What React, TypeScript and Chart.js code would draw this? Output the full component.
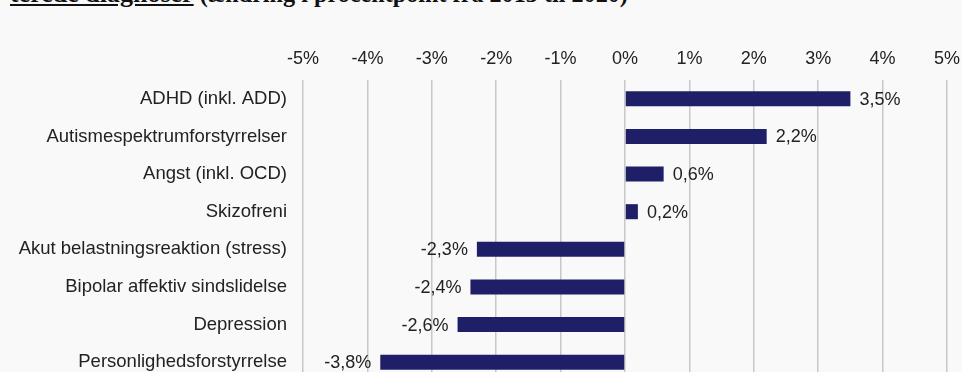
import React, { useEffect, useRef } from "react";
import { Chart, registerables } from "chart.js";

Chart.register(...registerables);

const categories = [
  "ADHD (inkl. ADD)",
  "Autismespektrumforstyrrelser",
  "Angst (inkl. OCD)",
  "Skizofreni",
  "Akut belastningsreaktion (stress)",
  "Bipolar affektiv sindslidelse",
  "Depression",
  "Personlighedsforstyrrelse",
];
const changes = [3.5, 2.2, 0.6, 0.2, -2.3, -2.4, -2.6, -3.8];
const axisMin = -5;
const axisMax = 5;
const titleLink = "terede diagnoser";
const titleRest = " (ændring i procentpoint fra 2013 til 2020)";

const fmt = (v: number) => v.toFixed(1).replace(".", ",") + "%";

const FONT = '"Liberation Sans", Arial, sans-serif';
const TEXT = "#222222";

const valueLabels = {
  id: "valueLabels",
  afterDatasetsDraw(chart: any) {
    const ctx = chart.ctx;
    const meta = chart.getDatasetMeta(0);
    ctx.save();
    ctx.font = `18px ${FONT}`;
    ctx.fillStyle = TEXT;
    ctx.textBaseline = "middle";
    meta.data.forEach((bar: any, i: number) => {
      const v = changes[i];
      if (v >= 0) {
        ctx.textAlign = "left";
        ctx.fillText(fmt(v), bar.x + 9, bar.y + 1);
      } else {
        ctx.textAlign = "right";
        ctx.fillText(fmt(v), bar.x - 9, bar.y + 1);
      }
    });
    ctx.restore();
  },
};

export default function App() {
  const ref = useRef<HTMLCanvasElement>(null);
  useEffect(() => {
    if (!ref.current) return;
    const chart = new Chart(ref.current, {
      type: "bar",
      data: {
        labels: categories,
        datasets: [
          {
            data: changes,
            backgroundColor: "#1f1f68",
            borderWidth: 0,
            barPercentage: 0.4,
            categoryPercentage: 1,
          },
        ],
      },
      options: {
        indexAxis: "y",
        animation: false,
        responsive: false,
        devicePixelRatio: 1,
        layout: { padding: { left: 0, right: 15, top: 0, bottom: 0 } },
        plugins: { legend: { display: false }, tooltip: { enabled: false } },
        scales: {
          x: {
            position: "top",
            min: axisMin,
            max: axisMax,
            afterFit: (s: any) => {
              s.height = 80;
              s.paddingLeft = 0;
              s.paddingRight = 0;
            },
            ticks: {
              stepSize: 1,
              padding: 10,
              color: TEXT,
              font: { family: FONT, size: 18 },
              callback: (v: any) => `${v}%`,
            },
            grid: { color: "#c8c8c8", lineWidth: 1.5, drawTicks: false },
            border: { display: false },
          },
          y: {
            afterFit: (s: any) => {
              s.width = 303;
              s.paddingTop = 0;
              s.paddingBottom = 0;
            },
            ticks: {
              padding: 16,
              color: TEXT,
              font: { family: FONT, size: 18.5 },
            },
            grid: { display: false, drawTicks: false },
            border: { display: false },
          },
        },
      },
      plugins: [valueLabels],
    });
    return () => chart.destroy();
  }, []);

  return (
    <div
      style={{
        position: "fixed",
        left: 0,
        top: 0,
        width: 962,
        height: 372,
        overflow: "hidden",
        background: "#f9f9f9",
      }}
    >
      <div
        style={{
          position: "absolute",
          left: 10,
          top: -21,
          whiteSpace: "nowrap",
          fontFamily: '"Liberation Serif", "Times New Roman", serif',
          fontWeight: "bold",
          color: "#111",
        }}
      >
        <span style={{ textDecoration: "underline", fontSize: 26 }}>{titleLink}</span>
        <span style={{ fontSize: 24.2 }}>{titleRest}</span>
      </div>
      <canvas
        ref={ref}
        width={962}
        height={381}
        style={{ position: "absolute", left: 0, top: 0, width: 962, height: 381 }}
      />
    </div>
  );
}
